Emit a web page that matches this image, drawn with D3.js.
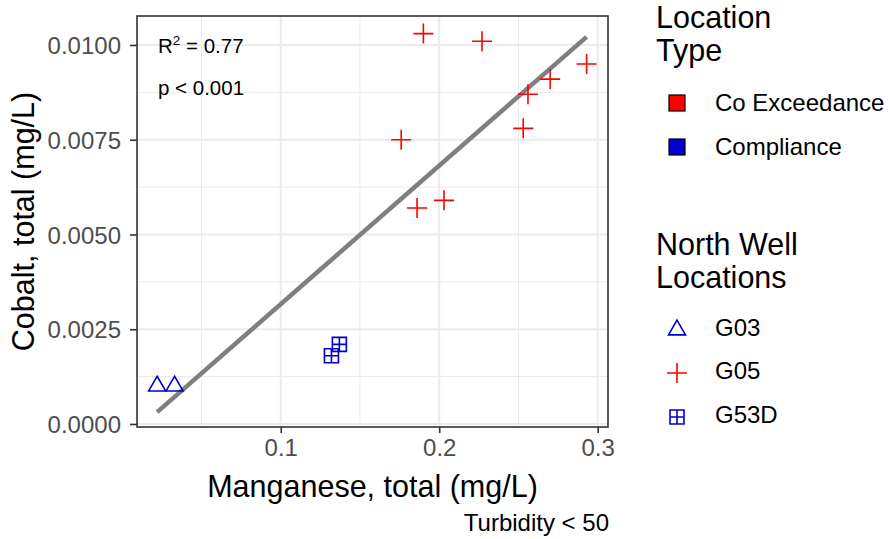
<!DOCTYPE html>
<html>
<head>
<meta charset="utf-8">
<script src="https://cdn.jsdelivr.net/npm/d3@7"></script>
<style>
  body { margin: 0; background: #fff; }
  svg text { font-family: "Liberation Sans", Arial, sans-serif; }
</style>
</head>
<body>
<div id="chart"></div>
<script>
// Data
const wells = ["G03", "G05", "G53D"];
const wellTypes = ["Compliance", "Co Exceedance", "Compliance"];
const locationTypes = ["Co Exceedance", "Compliance"];
const typeColors = ["#FF0000", "#0000CD"];

const g03Mn = [0.022, 0.033];
const g03Co = [0.0010, 0.0010];
const g05Mn = [0.190, 0.227, 0.293, 0.270, 0.256, 0.253, 0.176, 0.203, 0.186];
const g05Co = [0.0103, 0.0101, 0.0095, 0.0091, 0.0087, 0.0078, 0.0075, 0.0059, 0.0057];
const g53dMn = [0.132, 0.137];
const g53dCo = [0.0018, 0.0021];

const xTicks = [0.1, 0.2, 0.3];
const yTicks = [0, 0.0025, 0.005, 0.0075, 0.01];
const statLabels = ["R", " = 0.77", "p < 0.001"];

const W = 890, H = 539;
const panel = { left: 137, top: 16, right: 608, bottom: 427 };
const bigFont = 30.5, smallFont = 24;

const svg = d3.select("#chart").append("svg")
    .attr("width", W)
    .attr("height", H);

const x = d3.scaleLinear().domain([0.0093, 0.3065]).range([panel.left, panel.right]);
const y = d3.scaleLinear().domain([-0.00008, 0.010765]).range([panel.bottom, panel.top]);

// all points, tagged with well
const mnByWell = [g03Mn, g05Mn, g53dMn];
const coByWell = [g03Co, g05Co, g53dCo];
const points = [];
wells.forEach((w, i) => {
    mnByWell[i].forEach((mn, j) => {
        points.push({ well: w, type: wellTypes[i], mn: mn, co: coByWell[i][j] });
    });
});
const colorOf = t => typeColors[locationTypes.indexOf(t)];

// grid
const grid = svg.append("g");
const xMinor = [0.05, 0.15, 0.25];
const yMinor = [0.00125, 0.00375, 0.00625, 0.00875];
grid.selectAll(".xminor").data(xMinor).enter().append("line")
    .attr("x1", d => x(d)).attr("x2", d => x(d))
    .attr("y1", panel.top).attr("y2", panel.bottom)
    .attr("stroke", "#EBEBEB").attr("stroke-width", 1);
grid.selectAll(".yminor").data(yMinor).enter().append("line")
    .attr("y1", d => y(d)).attr("y2", d => y(d))
    .attr("x1", panel.left).attr("x2", panel.right)
    .attr("stroke", "#EBEBEB").attr("stroke-width", 1);
grid.selectAll(".xmajor").data(xTicks).enter().append("line")
    .attr("x1", d => x(d)).attr("x2", d => x(d))
    .attr("y1", panel.top).attr("y2", panel.bottom)
    .attr("stroke", "#EBEBEB").attr("stroke-width", 2);
grid.selectAll(".ymajor").data(yTicks).enter().append("line")
    .attr("y1", d => y(d)).attr("y2", d => y(d))
    .attr("x1", panel.left).attr("x2", panel.right)
    .attr("stroke", "#EBEBEB").attr("stroke-width", 2);

// regression line (least squares over all points)
const mx = d3.mean(points, d => d.mn), my = d3.mean(points, d => d.co);
const slope = d3.sum(points, d => (d.mn - mx) * (d.co - my)) / d3.sum(points, d => (d.mn - mx) ** 2);
const intercept = my - slope * mx;
const [xa, xb] = d3.extent(points, d => d.mn);
svg.append("line")
    .attr("x1", x(xa)).attr("y1", y(intercept + slope * xa))
    .attr("x2", x(xb)).attr("y2", y(intercept + slope * xb))
    .attr("stroke", "#7F7F7F").attr("stroke-width", 4.5);

// shapes
function shapePath(well) {
    if (well === "G03") {
        const u = 6.3;
        return `M0,${-1.555 * u}L${1.347 * u},${0.778 * u}L${-1.347 * u},${0.778 * u}Z`;
    } else if (well === "G05") {
        return "M-10,0H10M0,-10V10";
    } else {
        return "M-7,-7H7V7H-7ZM-7,0H7M0,-7V7";
    }
}

svg.append("g").selectAll("path").data(points).enter().append("path")
    .attr("transform", d => `translate(${x(d.mn)},${y(d.co)})`)
    .attr("d", d => shapePath(d.well))
    .attr("fill", "none")
    .attr("stroke", d => colorOf(d.type))
    .attr("stroke-width", 1.6);

// stats annotation
const ann = svg.append("g").attr("font-size", 20.5);
const r2 = ann.append("text").attr("x", 158).attr("y", 53).attr("fill", "#000");
r2.append("tspan").text(statLabels[0]);
r2.append("tspan").attr("dy", -8).attr("font-size", 13.5).text("2");
r2.append("tspan").attr("dy", 8).text(statLabels[1]);
ann.append("text").attr("x", 158).attr("y", 95).attr("fill", "#000").text(statLabels[2]);

// panel border
svg.append("rect")
    .attr("x", panel.left).attr("y", panel.top)
    .attr("width", panel.right - panel.left).attr("height", panel.bottom - panel.top)
    .attr("fill", "none").attr("stroke", "#333333").attr("stroke-width", 1.6);

// axes
const xAxis = svg.append("g")
    .attr("transform", `translate(0,${panel.bottom})`)
    .call(d3.axisBottom(x).tickValues(xTicks).tickFormat(d3.format(".1f")).tickSize(6).tickPadding(6));
const yAxis = svg.append("g")
    .attr("transform", `translate(${panel.left},0)`)
    .call(d3.axisLeft(y).tickValues(yTicks).tickFormat(d3.format(".4f")).tickSize(7).tickPadding(9));
[xAxis, yAxis].forEach(a => {
    a.select(".domain").remove();
    a.selectAll(".tick line").attr("stroke", "#333333").attr("stroke-width", 1.6);
    a.selectAll(".tick text").attr("fill", "#4D4D4D").attr("font-size", smallFont)
        .attr("font-family", "Liberation Sans, Arial, sans-serif");
});
yAxis.selectAll(".tick text").attr("dy", "0.36em");

// axis titles
svg.append("text")
    .attr("x", (panel.left + panel.right) / 2).attr("y", 497)
    .attr("text-anchor", "middle").attr("font-size", bigFont)
    .text("Manganese, total (mg/L)");
svg.append("text")
    .attr("transform", `translate(34,${(panel.top + panel.bottom) / 2}) rotate(-90)`)
    .attr("text-anchor", "middle").attr("font-size", bigFont)
    .text("Cobalt, total (mg/L)");

// caption
svg.append("text")
    .attr("x", 609).attr("y", 531)
    .attr("text-anchor", "end").attr("font-size", smallFont)
    .text("Turbidity < 50");

// legend: location type
const leg = svg.append("g");
leg.append("text").attr("x", 656).attr("y", 28).attr("font-size", bigFont).text("Location");
leg.append("text").attr("x", 656).attr("y", 61).attr("font-size", bigFont).text("Type");
const legTypeY = [103, 147];
locationTypes.forEach((t, i) => {
    leg.append("rect")
        .attr("x", 669).attr("y", legTypeY[i] - 8)
        .attr("width", 16).attr("height", 16)
        .attr("fill", typeColors[i]).attr("stroke", "#000").attr("stroke-width", 1.2);
    leg.append("text").attr("x", 715).attr("y", legTypeY[i]).attr("dy", "0.35em")
        .attr("font-size", smallFont).text(t);
});

// legend: wells
leg.append("text").attr("x", 656).attr("y", 255).attr("font-size", bigFont).text("North Well");
leg.append("text").attr("x", 656).attr("y", 288).attr("font-size", bigFont).text("Locations");
const legWellY = [330, 373, 417];
wells.forEach((w, i) => {
    leg.append("path")
        .attr("transform", `translate(677,${legWellY[i]})`)
        .attr("d", shapePath(w))
        .attr("fill", "none")
        .attr("stroke", colorOf(wellTypes[i]))
        .attr("stroke-width", 1.6);
    leg.append("text").attr("x", 715).attr("y", legWellY[i] - 2).attr("dy", "0.35em")
        .attr("font-size", smallFont).text(w);
});
</script>
</body>
</html>
